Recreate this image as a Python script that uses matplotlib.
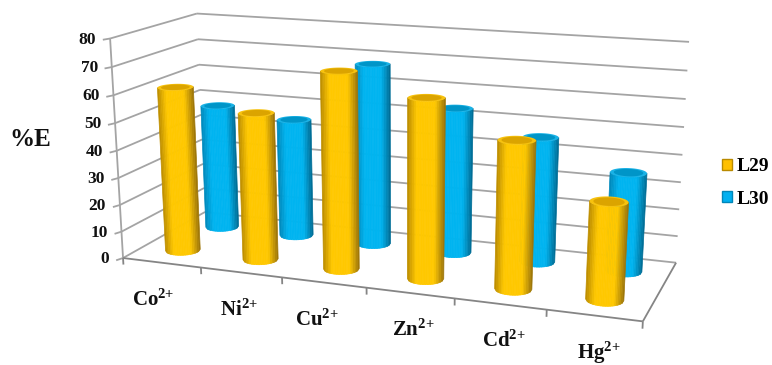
import numpy as np
import matplotlib
matplotlib.use("Agg")
import matplotlib.pyplot as plt
from matplotlib.patches import Patch
from mpl_toolkits.mplot3d.art3d import Poly3DCollection, Line3DCollection

plt.rcParams['font.family'] = ['Liberation Serif', 'DejaVu Serif']
plt.rcParams['mathtext.fontset'] = 'custom'
plt.rcParams['mathtext.bf'] = 'Liberation Serif:bold'
plt.rcParams['mathtext.rm'] = 'Liberation Serif:bold'

metals = ['Co', 'Ni', 'Cu', 'Zn', 'Cd', 'Hg']
l29 = [61, 54, 71, 64, 52, 34]
l30 = [48, 45, 68, 54, 46, 36]
value_ticks = [0, 10, 20, 30, 40, 50, 60, 70, 80]
series_names = ['L29', 'L30']
label_dx = [-8, -2, -7, 3, 4, 5]

# colours across a cylinder: left edge, middle, right edge
yellow = ['#b98a00', '#ffc800', '#ffc800', '#96700a']
blue = ['#0086b8', '#00b4f0', '#00b4f0', '#00688f']
yellow_cap = ['#f7c20e', '#dba400']
blue_cap = ['#19b2e6', '#0095c8']
grid_col = '#a4a4a4'
floor_col = '#858585'
text_col = '#111111'

# where the chart box corners sit in the picture, gives the camera
corners = [(0, 0, 0), (6, 0, 0), (0, 2, 0), (6, 2, 0), (0, 0, 80), (0, 2, 80), (6, 2, 80)]
pixels = [(123, 257), (643, 322), (205, 213), (676, 262), (110, 39), (197, 13), (689, 42)]
A = []
b = []
for (x, y, z), (px, py) in zip(corners, pixels):
    A.append([x, y, z, 1, 0, 0, 0, 0, -px * x, -px * y, -px * z])
    A.append([0, 0, 0, 0, x, y, z, 1, -py * x, -py * y, -py * z])
    b += [px, py]
p = np.linalg.lstsq(np.array(A, float), np.array(b, float), rcond=None)[0]
M = np.array([[p[0], p[1], p[2], p[3]],
              [p[4], p[5], p[6], p[7]],
              [0, 1, 0, 0],
              [p[8], p[9], p[10], 1]])


def to_px(x, y, z):
    v = M @ np.array([x, y, z, 1.0 * np.ones_like(x)])
    return v[0] / v[3], v[1] / v[3]


def mix(stops, t):
    rgb = np.array([matplotlib.colors.to_rgb(c) for c in stops])
    pos = [0, 0.25, 0.72, 1]
    return [np.interp(t, pos, rgb[:, i]) for i in range(3)] + [1]


def cylinder(ax, x0, y0, h, stops, cap, z):
    r = 0.2
    th = np.linspace(0, 2 * np.pi, 721)
    xs = x0 + r * np.cos(th)
    ys = y0 + r * np.sin(th)
    sx, _ = to_px(xs, ys, np.zeros_like(xs))
    # only the arc facing the viewer, from the leftmost point round to the rightmost
    i0 = np.argmin(sx[:720])
    i1 = np.argmax(sx[:720])
    if i1 < i0:
        i1 += 720
    idx = np.arange(i0, i1 + 1) % 720
    arc_th = th[idx]
    arc_sx = sx[idx]
    # strips of even width on screen, so the edge facets do not get too thin
    n = int((arc_sx[-1] - arc_sx[0]) / 1.6)
    want = np.linspace(arc_sx[0], arc_sx[-1], n + 1)
    strip_th = np.unwrap(arc_th)
    strip_th = np.interp(want, arc_sx, strip_th)
    cx = x0 + r * np.cos(strip_th)
    cy = y0 + r * np.sin(strip_th)
    t = np.linspace(0, 1, n + 1)
    quads = []
    cols = []
    for k in range(n):
        quads.append([(cx[k], cy[k], 0), (cx[k + 1], cy[k + 1], 0), (cx[k + 1], cy[k + 1], h), (cx[k], cy[k], h)])
        cols.append(mix(stops, (t[k] + t[k + 1]) / 2))
    ax.add_collection3d(Poly3DCollection(quads, facecolors=cols, edgecolors=cols, linewidths=0.5, zorder=z))
    ax.add_collection3d(Poly3DCollection([list(zip(xs, ys, np.full_like(xs, h)))],
                                         facecolor=cap[0], edgecolor='none', zorder=z + 0.001))
    ax.add_collection3d(Poly3DCollection([list(zip(x0 + 0.8 * r * np.cos(th), y0 + 0.8 * r * np.sin(th),
                                                   np.full_like(xs, h)))],
                                         facecolor=cap[1], edgecolor='none', zorder=z + 0.002))


fig = plt.figure(figsize=(7.72, 3.65), dpi=100)
ax = fig.add_axes([0, 0, 1, 1], projection='3d', computed_zorder=False)
ax.set_axis_off()
ax.set_xlim(0, 6)
ax.set_ylim(0, 2)
ax.set_zlim(0, 80)
ax.get_proj = lambda: M
ax.apply_aspect = lambda position=None: None
ax.viewLim.intervalx = (0, 772)
ax.viewLim.intervaly = (365, 0)

# walls and floor
grid_segs = [[(0, 0, 0), (0, 0, 80)]]
for v in value_ticks:
    grid_segs.append([(-0.03, -0.1, v), (0, 0, v)])
    grid_segs.append([(0, 0, v), (0, 2, v)])
    grid_segs.append([(0, 2, v), (6, 2, v)])
ax.add_collection3d(Line3DCollection(grid_segs, colors=grid_col, linewidths=1.3, zorder=1))
floor_segs = [[(0, 0, 0), (6, 0, 0)], [(6, 0, 0), (6, 2, 0)]]
for i in range(7):
    floor_segs.append([(i, 0, 0), (i, 0, -2.5)])
ax.add_collection3d(Line3DCollection(floor_segs, colors=floor_col, linewidths=1.3, zorder=1.1))

for i in range(6):
    cylinder(ax, i + 0.5, 1.5, l30[i], blue, blue_cap, 2 + i * 0.01)
for i in range(6):
    cylinder(ax, i + 0.5, 0.5, l29[i], yellow, yellow_cap, 3 + i * 0.01)

for v in value_ticks:
    sx, sy = to_px(0.0, 0.0, float(v))
    ax.text2D(sx - 14, sy + 1, str(v), transform=ax.transData, ha='right', va='center',
              fontsize=12.5, fontweight='bold', color=text_col)
for i, m in enumerate(metals):
    sx, sy = to_px(i + 0.5, 0.0, 0.0)
    ax.text2D(sx + label_dx[i], sy + 37.5, r'$\mathbf{%s^{2{+}}}$' % m, transform=ax.transData,
              ha='center', va='center', fontsize=15, color=text_col)

fig.text(30 / 772, 1 - 139 / 365, '%E', ha='center', va='center', fontsize=18, fontweight='bold', color=text_col)

handles = [Patch(facecolor='#ffc000', edgecolor='#b98a00'), Patch(facecolor='#00b0f0', edgecolor='#0086b8')]
ax.legend(handles, series_names, loc='center left', bbox_to_anchor=(722 / 772, 1 - 183 / 365),
          frameon=False, prop={'weight': 'bold', 'size': 14}, handlelength=0.5, handleheight=0.5,
          handletextpad=0.26, labelspacing=0.8, borderpad=0, borderaxespad=0)

fig.savefig('out.png', dpi=100)
